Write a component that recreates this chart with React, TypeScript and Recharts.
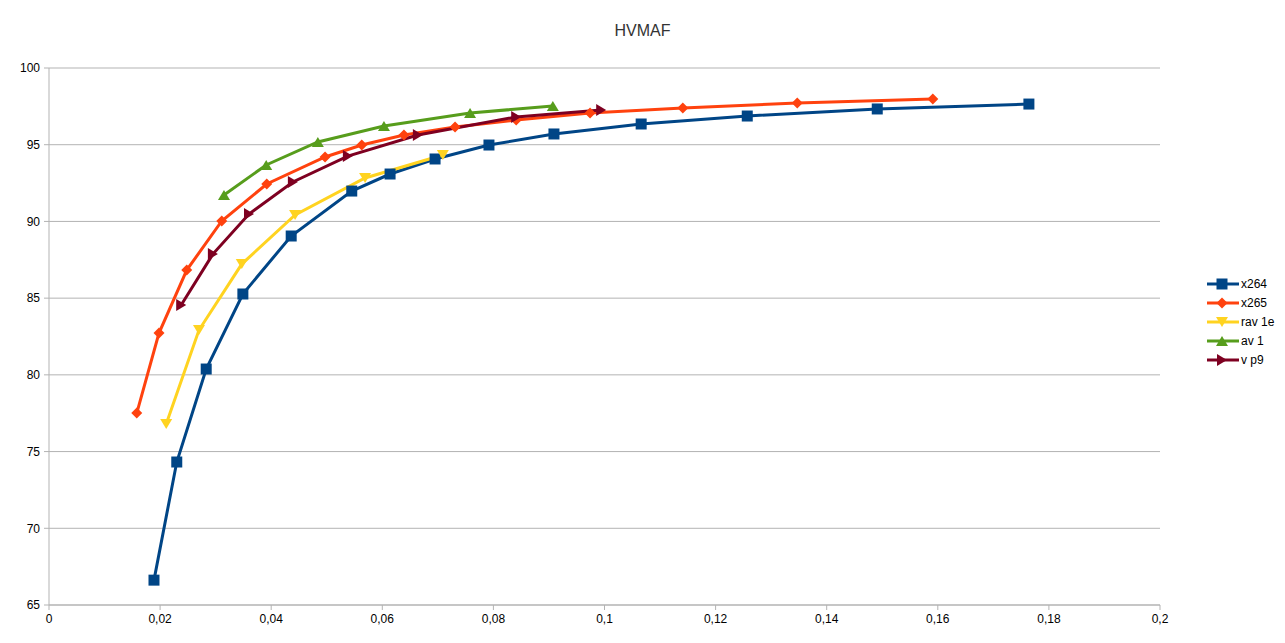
import { LineChart, Line, XAxis, YAxis, CartesianGrid } from 'recharts';

const xTicks = [0, 0.02, 0.04, 0.06, 0.08, 0.1, 0.12, 0.14, 0.16, 0.18, 0.2];
const yTicks = [65, 70, 75, 80, 85, 90, 95, 100];

const x264X = [0.0189, 0.023, 0.0283, 0.0349, 0.0436, 0.0545, 0.0614, 0.0695, 0.0792, 0.0909, 0.1066, 0.1257, 0.1491, 0.1764];
const x264Y = [66.62, 74.32, 80.38, 85.27, 89.05, 91.98, 93.09, 94.07, 94.98, 95.7, 96.35, 96.87, 97.33, 97.65];

const x265X = [0.0158, 0.0198, 0.0248, 0.0311, 0.0392, 0.0497, 0.0563, 0.0639, 0.0731, 0.0841, 0.0974, 0.1141, 0.1347, 0.1591];
const x265Y = [77.51, 82.72, 86.83, 90.03, 92.44, 94.2, 94.98, 95.63, 96.15, 96.61, 97.07, 97.39, 97.72, 97.98];

const rav1eX = [0.0211, 0.027, 0.0347, 0.0443, 0.0569, 0.0709];
const rav1eY = [76.79, 82.92, 87.22, 90.42, 92.83, 94.33];

const av1X = [0.0315, 0.0391, 0.0484, 0.0603, 0.0758, 0.0907];
const av1Y = [91.72, 93.68, 95.18, 96.22, 97.07, 97.52];

const vp9X = [0.0238, 0.0295, 0.036, 0.0439, 0.0538, 0.0664, 0.0841, 0.0994];
const vp9Y = [84.55, 87.87, 90.48, 92.57, 94.26, 95.63, 96.81, 97.26];

type Pt = { x: number; y: number };
const zip = (xs: number[], ys: number[]): Pt[] => xs.map((x, i) => ({ x, y: ys[i] }));

type Shape = 'square' | 'diamond' | 'down' | 'up' | 'right';

function markerPath(shape: Shape, cx: number, cy: number): string {
  switch (shape) {
    case 'square':
      return `M${cx - 5.5},${cy - 5.5}h11v11h-11z`;
    case 'diamond':
      return `M${cx},${cy - 5.5}L${cx + 5.5},${cy}L${cx},${cy + 5.5}L${cx - 5.5},${cy}z`;
    case 'down':
      return `M${cx - 6},${cy - 5}L${cx + 6},${cy - 5}L${cx},${cy + 5}z`;
    case 'up':
      return `M${cx - 6},${cy + 5}L${cx + 6},${cy + 5}L${cx},${cy - 5}z`;
    case 'right':
      return `M${cx - 5},${cy - 6}L${cx - 5},${cy + 6}L${cx + 5},${cy}z`;
  }
}

function makeDot(shape: Shape, color: string) {
  return (props: { cx?: number; cy?: number; index?: number }) => {
    if (props.cx == null || props.cy == null) return <g key={props.index} />;
    return <path key={props.index} d={markerPath(shape, props.cx, props.cy)} fill={color} stroke="none" />;
  };
}

const series = [
  { name: 'x264', color: '#004586', shape: 'square' as Shape, data: zip(x264X, x264Y) },
  { name: 'x265', color: '#ff420e', shape: 'diamond' as Shape, data: zip(x265X, x265Y) },
  { name: 'rav 1e', color: '#ffd320', shape: 'down' as Shape, data: zip(rav1eX, rav1eY) },
  { name: 'av 1', color: '#579d1c', shape: 'up' as Shape, data: zip(av1X, av1Y) },
  { name: 'v p9', color: '#7e0021', shape: 'right' as Shape, data: zip(vp9X, vp9Y) },
];

const fmt = (v: number) => String(Math.round(v * 100) / 100).replace('.', ',');

export default function App() {
  return (
    <div
      style={{
        position: 'absolute',
        left: 0,
        top: 0,
        width: 1285,
        height: 643,
        background: '#fff',
        fontFamily: '"Liberation Sans", Arial, sans-serif',
      }}
    >
      <div style={{ position: 'absolute', top: 22, left: 0, width: 1285, textAlign: 'center', fontSize: 16, color: '#333' }}>
        HVMAF
      </div>
      <LineChart width={1285} height={643} margin={{ top: 68, right: 125, bottom: 8, left: 9 }}>
        <CartesianGrid horizontal vertical={false} stroke="#b3b3b3" />
        <XAxis
          type="number"
          dataKey="x"
          domain={[0, 0.2]}
          ticks={xTicks}
          tickFormatter={fmt}
          height={30}
          stroke="#b3b3b3"
          tickSize={5}
          tickMargin={4}
          tick={{ fill: '#000', fontSize: 12 }}
          allowDataOverflow
        />
        <YAxis
          type="number"
          domain={[65, 100]}
          ticks={yTicks}
          width={40}
          stroke="#b3b3b3"
          tickSize={5}
          tickMargin={4}
          tick={{ fill: '#000', fontSize: 12 }}
          allowDataOverflow
        />
        {series.map((s) => (
          <Line
            key={s.name}
            data={s.data}
            dataKey="y"
            name={s.name}
            type="linear"
            stroke={s.color}
            strokeWidth={3}
            dot={makeDot(s.shape, s.color)}
            activeDot={false}
            isAnimationActive={false}
          />
        ))}
      </LineChart>
      <div style={{ position: 'absolute', left: 1206, top: 274, fontSize: 12, color: '#000' }}>
        {series.map((s) => (
          <div key={s.name} style={{ display: 'flex', alignItems: 'center', height: 19 }}>
            <svg width={34} height={14}>
              <line x1={1} y1={7} x2={33} y2={7} stroke={s.color} strokeWidth={3} />
              <path d={markerPath(s.shape, 16, 7)} fill={s.color} />
            </svg>
            <span style={{ marginLeft: 1 }}>{s.name}</span>
          </div>
        ))}
      </div>
    </div>
  );
}
